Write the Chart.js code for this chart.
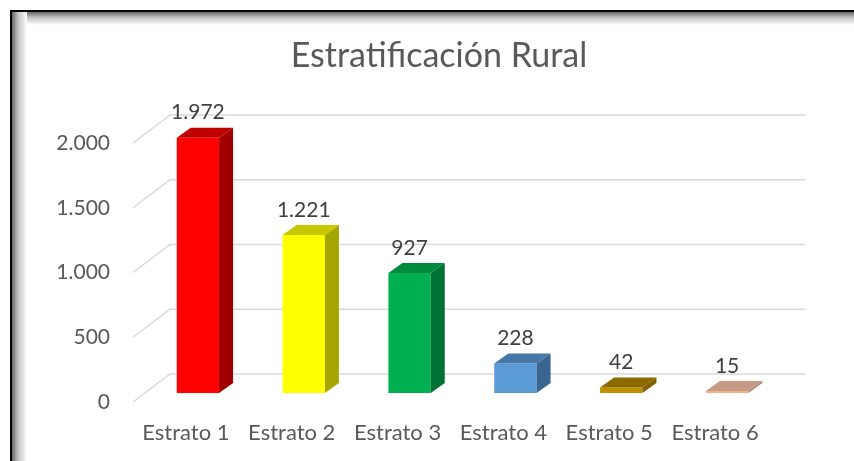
<!DOCTYPE html>
<html><head><meta charset="utf-8">
<script src="https://cdn.jsdelivr.net/npm/chart.js@4/dist/chart.umd.min.js"></script>
<style>html,body{margin:0;padding:0;background:#fff;overflow:hidden}canvas{display:block}</style>
</head><body>
<canvas id="c" width="854" height="461"></canvas>
<script>
// ---- data ----
const categories = ['Estrato 1', 'Estrato 2', 'Estrato 3', 'Estrato 4', 'Estrato 5', 'Estrato 6'];
const values = [1972, 1221, 927, 228, 42, 15];
const yTicks = [0, 500, 1000, 1500, 2000];
const chartTitle = 'Estratificación Rural';

// ---- styles ----
const frontColors = ['#FF0000', '#FFFF00', '#00B050', '#5B9BD5', '#BF9000', '#F4B183'];
const topColors   = ['#C00000', '#C8C800', '#008A3E', '#4677A6', '#8C6A00', '#C49A84'];
const sideColors  = ['#A00000', '#A6A600', '#007033', '#3A6591', '#7F6000', '#A88470'];
const FONT = 'Lato, "Open Sans", sans-serif';
const SHIFT = {x: 12, y: -9};   // bar plane relative to front plane
const BACK = {x: 37, y: -28};   // back wall relative to front plane
const DEPTH = {x: 14, y: -10};  // bar depth

function fmt(v) { return String(v).replace(/\B(?=(\d{3})+(?!\d))/g, '.'); }

const framePlugin = {
  id: 'frame',
  beforeDraw(chart) {
    const ctx = chart.ctx, W = chart.width, H = chart.height;
    ctx.save();
    ctx.fillStyle = '#fff';
    ctx.fillRect(0, 0, W, H);
    let g = ctx.createLinearGradient(12, 0, 27, 0);
    g.addColorStop(0, 'rgba(0,0,0,0.6)');
    g.addColorStop(0.4, 'rgba(0,0,0,0.25)');
    g.addColorStop(1, 'rgba(0,0,0,0)');
    ctx.fillStyle = g;
    ctx.fillRect(12, 12, 15, H - 12);
    g = ctx.createLinearGradient(0, 12, 0, 25);
    g.addColorStop(0, 'rgba(0,0,0,0.6)');
    g.addColorStop(0.4, 'rgba(0,0,0,0.25)');
    g.addColorStop(1, 'rgba(0,0,0,0)');
    ctx.fillStyle = g;
    ctx.fillRect(27, 12, W - 27, 13);
    ctx.fillStyle = '#000';
    ctx.fillRect(10, 10, 2, H - 10);
    ctx.fillRect(10, 10, W - 10, 2);
    // title
    ctx.fillStyle = '#595959';
    ctx.font = '34px ' + FONT;
    ctx.textAlign = 'center';
    ctx.textBaseline = 'alphabetic';
    ctx.fillText(chartTitle, 439, 67);
    ctx.restore();
  }
};

const threeD = {
  id: 'threeD',
  beforeDatasetsDraw(chart) {
    const ctx = chart.ctx, a = chart.chartArea, ys = chart.scales.y;
    ctx.save();
    ctx.strokeStyle = '#D9D9D9';
    ctx.lineWidth = 1.5;
    yTicks.forEach(v => {
      const y = ys.getPixelForValue(v);
      ctx.beginPath();
      ctx.moveTo(a.left, y);
      ctx.lineTo(a.left + BACK.x, y + BACK.y);
      ctx.lineTo(a.right + BACK.x, y + BACK.y);
      ctx.stroke();
    });
    ctx.restore();
    ctx.save();
    ctx.translate(SHIFT.x, SHIFT.y);
  },
  afterDatasetsDraw(chart) {
    const ctx = chart.ctx;
    const meta = chart.getDatasetMeta(0);
    meta.data.forEach((el, i) => {
      const p = el.getProps(['x', 'y', 'base', 'width'], true);
      const l = p.x - p.width / 2, r = p.x + p.width / 2;
      ctx.fillStyle = sideColors[i];
      ctx.beginPath();
      ctx.moveTo(r, p.y); ctx.lineTo(r + DEPTH.x, p.y + DEPTH.y);
      ctx.lineTo(r + DEPTH.x, p.base + DEPTH.y); ctx.lineTo(r, p.base);
      ctx.closePath(); ctx.fill();
      ctx.fillStyle = topColors[i];
      ctx.beginPath();
      ctx.moveTo(l, p.y); ctx.lineTo(l + DEPTH.x, p.y + DEPTH.y);
      ctx.lineTo(r + DEPTH.x, p.y + DEPTH.y); ctx.lineTo(r, p.y);
      ctx.closePath(); ctx.fill();
    });
    ctx.restore();
    ctx.save();
    ctx.fillStyle = '#404040';
    ctx.font = '21px ' + FONT;
    ctx.textAlign = 'center';
    ctx.textBaseline = 'middle';
    meta.data.forEach((el, i) => {
      const p = el.getProps(['x', 'y'], true);
      ctx.fillText(fmt(values[i]), p.x + SHIFT.x, p.y + SHIFT.y - 25);
    });
    ctx.restore();
  }
};

new Chart(document.getElementById('c'), {
  type: 'bar',
  data: {
    labels: categories,
    datasets: [{
      data: values,
      backgroundColor: frontColors,
      borderWidth: 0,
      barPercentage: 0.4,
      categoryPercentage: 1,
      clip: false
    }]
  },
  options: {
    responsive: false,
    animation: false,
    devicePixelRatio: 1,
    layout: {padding: {left: 30, right: 86, top: 143, bottom: 0}},
    plugins: {
      legend: {display: false},
      tooltip: {enabled: false},
      title: {display: false}
    },
    scales: {
      x: {
        grid: {display: false, drawTicks: false},
        border: {display: false},
        ticks: {color: '#595959', font: {family: FONT, size: 22}, padding: 18, maxRotation: 0, autoSkip: false},
        afterFit(s) { s.height = 59; }
      },
      y: {
        min: 0, max: 2000,
        grid: {display: false, drawTicks: false},
        border: {display: false},
        ticks: {stepSize: 500, color: '#595959', font: {family: FONT, size: 21}, padding: 23, callback: v => fmt(v)},
        afterFit(s) { s.width = 103; }
      }
    }
  },
  plugins: [framePlugin, threeD]
});
</script>
</body></html>
